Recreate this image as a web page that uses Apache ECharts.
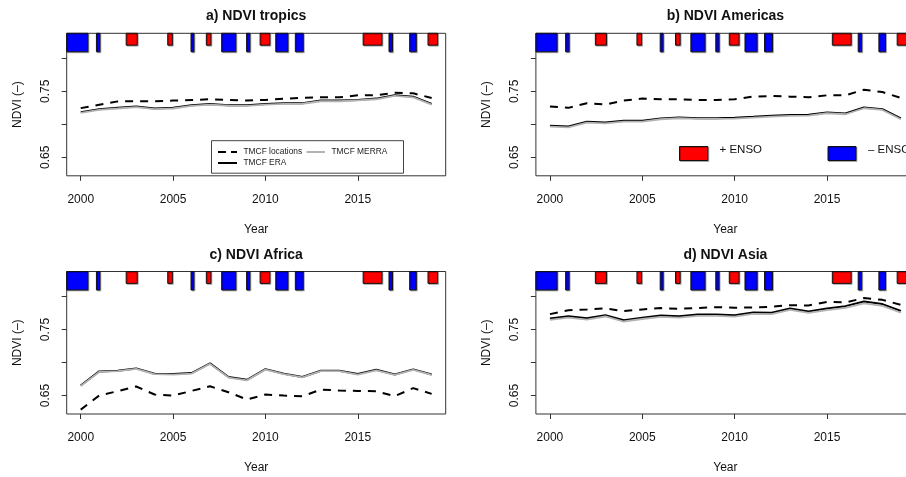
<!DOCTYPE html>
<html>
<head>
<meta charset="utf-8">
<script src="https://cdn.jsdelivr.net/npm/echarts@6/dist/echarts.min.js"></script>
<style>
html,body{margin:0;padding:0;background:#ffffff;}
#chart{width:906px;height:477px;}
</style>
</head>
<body>
<div id="chart"></div>
<script>
// ---------------- data ----------------
const years = [2000,2001,2002,2003,2004,2005,2006,2007,2008,2009,2010,2011,2012,2013,2014,2015,2016,2017,2018,2019];
const xTickValues = [2000, 2005, 2010, 2015];
const yTickValues = [0.65, 0.70, 0.75, 0.80];
const yLabelValues = [0.65, 0.75];
const panelTitles = ['a) NDVI tropics', 'b) NDVI Americas', 'c) NDVI Africa', 'd) NDVI Asia'];
const seriesNames = ['TMCF locations', 'TMCF ERA', 'TMCF MERRA'];

const locTropics   = [0.7246,0.7297,0.7348,0.7350,0.7350,0.7360,0.7370,0.7380,0.7370,0.7360,0.7370,0.7390,0.7400,0.7410,0.7410,0.7440,0.7440,0.7480,0.7470,0.7400];
const eraTropics   = [0.7185,0.7230,0.7250,0.7270,0.7240,0.7250,0.7290,0.7310,0.7290,0.7290,0.7310,0.7320,0.7320,0.7360,0.7360,0.7370,0.7390,0.7440,0.7420,0.7310];
const merraTropics = [0.7175,0.7220,0.7240,0.7262,0.7232,0.7240,0.7280,0.7300,0.7282,0.7280,0.7300,0.7310,0.7312,0.7350,0.7350,0.7362,0.7380,0.7430,0.7410,0.7300];

const locAmericas   = [0.7272,0.7250,0.7320,0.7300,0.7360,0.7390,0.7380,0.7380,0.7370,0.7370,0.7380,0.7420,0.7430,0.7420,0.7410,0.7440,0.7440,0.7525,0.7490,0.7400];
const eraAmericas   = [0.6977,0.6967,0.7038,0.7028,0.7053,0.7053,0.7089,0.7104,0.7094,0.7094,0.7100,0.7114,0.7130,0.7140,0.7145,0.7180,0.7165,0.7256,0.7230,0.7090];
const merraAmericas = [0.6965,0.6955,0.7026,0.7016,0.7042,0.7041,0.7077,0.7092,0.7082,0.7083,0.7088,0.7102,0.7118,0.7128,0.7133,0.7168,0.7153,0.7244,0.7218,0.7078];

const locAfrica   = [0.6287,0.6500,0.6566,0.6637,0.6515,0.6500,0.6570,0.6640,0.6550,0.6440,0.6515,0.6500,0.6490,0.6590,0.6576,0.6570,0.6566,0.6490,0.6612,0.6525];
const eraAfrica   = [0.6652,0.6866,0.6876,0.6911,0.6830,0.6825,0.6840,0.6987,0.6780,0.6739,0.6900,0.6830,0.6780,0.6876,0.6876,0.6825,0.6890,0.6820,0.6896,0.6820];
const merraAfrica = [0.6645,0.6858,0.6869,0.6904,0.6823,0.6818,0.6833,0.6980,0.6773,0.6731,0.6893,0.6824,0.6775,0.6869,0.6869,0.6818,0.6883,0.6813,0.6889,0.6813];

const locAsia   = [0.7734,0.7794,0.7805,0.7820,0.7780,0.7805,0.7825,0.7815,0.7825,0.7840,0.7830,0.7835,0.7845,0.7870,0.7865,0.7920,0.7910,0.7977,0.7950,0.7875];
const eraAsia   = [0.7668,0.7700,0.7673,0.7718,0.7642,0.7680,0.7713,0.7700,0.7728,0.7728,0.7718,0.7759,0.7754,0.7820,0.7774,0.7820,0.7855,0.7926,0.7886,0.7784];
const merraAsia = [0.7648,0.7680,0.7652,0.7698,0.7622,0.7660,0.7692,0.7680,0.7707,0.7707,0.7697,0.7738,0.7733,0.7798,0.7752,0.7795,0.7828,0.7897,0.7858,0.7755];

// ENSO events (decimal years): negative (blue) and positive (red)
const ensoNegStart = [1999.00, 2000.85, 2005.97, 2007.63, 2008.98, 2010.56, 2011.62, 2016.69, 2017.81];
const ensoNegEnd   = [2000.39, 2001.04, 2006.13, 2008.40, 2009.16, 2011.22, 2012.05, 2016.88, 2018.17];
const ensoPosStart = [2002.46, 2004.71, 2006.80, 2009.71, 2015.29, 2018.80];
const ensoPosEnd   = [2003.06, 2004.96, 2007.05, 2010.24, 2016.31, 2019.32];

// ---------------- chart ----------------
const FONT = '"Liberation Sans", Arial, Helvetica, sans-serif';
const panelLoc   = [locTropics, locAmericas, locAfrica, locAsia];
const panelEra   = [eraTropics, eraAmericas, eraAfrica, eraAsia];
const panelMerra = [merraTropics, merraAmericas, merraAfrica, merraAsia];

const gridPos = [
  {left: 66.7, top: 33.3},
  {left: 535.9, top: 33.3},
  {left: 66.7, top: 271.5},
  {left: 535.9, top: 271.5}
];
const GW = 379, GH = 142.5;

const ensoData = [];
ensoNegStart.forEach((s, i) => ensoData.push([s, ensoNegEnd[i], -1]));
ensoPosStart.forEach((s, i) => ensoData.push([s, ensoPosEnd[i], 1]));

function ensoRender(params, api) {
  const x0 = api.value(0), x1 = api.value(1), kind = api.value(2);
  const bottom = kind > 0 ? 0.82 : 0.81;
  const p0 = api.coord([x0, 0.86]);
  const p1 = api.coord([x1, bottom]);
  const cs = params.coordSys;
  const r = echarts.graphic.clipRectByRect(
    {x: p0[0], y: p0[1], width: p1[0] - p0[0], height: p1[1] - p0[1]},
    {x: cs.x, y: cs.y, width: cs.width, height: cs.height});
  if (!r) return;
  return {
    type: 'rect',
    shape: r,
    style: {
      fill: kind > 0 ? '#ff0000' : '#0000ff',
      stroke: '#111', lineWidth: 1,
      shadowColor: 'rgba(0,0,0,0.25)', shadowOffsetX: 1, shadowOffsetY: 1, shadowBlur: 0
    }
  };
}

const grids = [], xAxes = [], yAxes = [], series = [], titles = [];

for (let i = 0; i < 4; i++) {
  grids.push({left: gridPos[i].left, top: gridPos[i].top, width: GW, height: GH,
    outerBoundsMode: 'none', containLabel: false,
    show: true, borderColor: '#333', borderWidth: 1, backgroundColor: 'transparent'});
  xAxes.push({
    gridIndex: i, type: 'value', min: 1999.24, max: 2019.76,
    axisLine: {show: false},
    splitLine: {show: false},
    axisTick: {show: true, inside: false, length: 5, customValues: xTickValues, lineStyle: {color: '#333', width: 1}},
    axisLabel: {customValues: xTickValues, margin: 18, fontSize: 12, color: '#111', fontFamily: FONT,
      formatter: v => String(v)},
    name: 'Year', nameLocation: 'middle', nameGap: 48,
    nameTextStyle: {fontSize: 12, color: '#111', fontFamily: FONT}
  });
  yAxes.push({
    gridIndex: i, type: 'value', min: 0.622, max: 0.838,
    axisLine: {show: false},
    splitLine: {show: false},
    axisTick: {show: true, inside: false, length: 5, customValues: yTickValues, lineStyle: {color: '#333', width: 1}},
    axisLabel: {customValues: yLabelValues, rotate: 90, margin: 15, fontSize: 12, color: '#111', fontFamily: FONT,
      formatter: v => v.toFixed(2)},
    name: 'NDVI (–)', nameLocation: 'middle', nameRotate: 90, nameGap: 43,
    nameTextStyle: {fontSize: 12, color: '#111', fontFamily: FONT}
  });
  titles.push({
    text: panelTitles[i],
    left: gridPos[i].left + GW / 2, top: gridPos[i].top - 16.8,
    textAlign: 'center', textVerticalAlign: 'middle', padding: 0,
    textStyle: {fontSize: 14, fontWeight: 'bold', color: '#111', fontFamily: FONT}
  });
  const mk = arr => years.map((y, k) => [y, arr[k]]);
  series.push({
    type: 'line', name: seriesNames[0], xAxisIndex: i, yAxisIndex: i,
    data: mk(panelLoc[i]), symbol: 'none', z: 3,
    lineStyle: {color: '#000', width: 2, type: [8, 7]}
  });
  series.push({
    type: 'line', name: seriesNames[1], xAxisIndex: i, yAxisIndex: i,
    data: mk(panelEra[i]), symbol: 'none', z: 3,
    lineStyle: {color: '#000', width: 2}
  });
  series.push({
    type: 'line', name: seriesNames[2], xAxisIndex: i, yAxisIndex: i,
    data: mk(panelMerra[i]), symbol: 'none', z: 4,
    lineStyle: {color: '#b3b3b3', width: 1.8}
  });
  series.push({
    type: 'custom', name: 'ENSO', xAxisIndex: i, yAxisIndex: i,
    data: ensoData, renderItem: ensoRender, z: 5, silent: true
  });
}

const legendText = {fontSize: 8.4, fill: '#222', fontFamily: FONT, verticalAlign: 'middle', align: 'left'};
const graphic = [
  // legend in panel a
  {type: 'rect', z: 100, shape: {x: 211.5, y: 140.7, width: 192, height: 32.5},
    style: {fill: '#fff', stroke: '#444', lineWidth: 1}},
  {type: 'line', z: 101, shape: {x1: 218, y1: 152, x2: 237, y2: 152},
    style: {stroke: '#000', lineWidth: 2, lineDash: [8, 5]}},
  {type: 'text', z: 101, x: 243.5, y: 152, style: Object.assign({text: seriesNames[0]}, legendText)},
  {type: 'line', z: 101, shape: {x1: 218, y1: 163, x2: 237, y2: 163},
    style: {stroke: '#000', lineWidth: 2}},
  {type: 'text', z: 101, x: 243.5, y: 163, style: Object.assign({text: seriesNames[1]}, legendText)},
  {type: 'line', z: 101, shape: {x1: 306.5, y1: 152, x2: 325, y2: 152},
    style: {stroke: '#b3b3b3', lineWidth: 2}},
  {type: 'text', z: 101, x: 331.5, y: 152, style: Object.assign({text: seriesNames[2]}, legendText)},
  // ENSO legend in panel b
  {type: 'rect', z: 100, shape: {x: 679.5, y: 146.5, width: 28.3, height: 14},
    style: {fill: '#ff0000', stroke: '#111', lineWidth: 1, shadowColor: 'rgba(0,0,0,0.25)', shadowOffsetX: 1, shadowOffsetY: 1}},
  {type: 'text', z: 101, x: 719.5, y: 149.5,
    style: {text: '+ ENSO', fontSize: 11.5, fill: '#111', fontFamily: FONT, verticalAlign: 'middle'}},
  {type: 'rect', z: 100, shape: {x: 828, y: 146.5, width: 28, height: 14},
    style: {fill: '#0000ff', stroke: '#111', lineWidth: 1, shadowColor: 'rgba(0,0,0,0.25)', shadowOffsetX: 1, shadowOffsetY: 1}},
  {type: 'text', z: 101, x: 868, y: 149.5,
    style: {text: '– ENSO', fontSize: 11.5, fill: '#111', fontFamily: FONT, verticalAlign: 'middle'}}
];

const chart = echarts.init(document.getElementById('chart'), null, {renderer: 'canvas'});
chart.setOption({
  animation: false,
  backgroundColor: '#ffffff',
  title: titles,
  grid: grids,
  xAxis: xAxes,
  yAxis: yAxes,
  series: series,
  graphic: graphic
});
</script>
</body>
</html>
